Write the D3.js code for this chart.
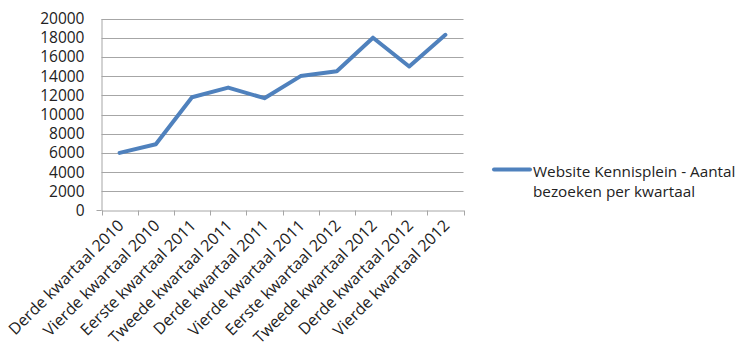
<!DOCTYPE html>
<html>
<head>
<meta charset="utf-8">
<script src="https://cdn.jsdelivr.net/npm/d3@7"></script>
<style>
  html, body { margin: 0; padding: 0; background: #fff; }
  svg { display: block; }
  text { font-family: "Open Sans", "Liberation Sans", sans-serif; fill: #222; }
</style>
</head>
<body>
<svg id="chart" width="744" height="350"></svg>
<script>
const categories = [
  "Derde kwartaal 2010", "Vierde kwartaal 2010", "Eerste kwartaal 2011",
  "Tweede kwartaal 2011", "Derde kwartaal 2011", "Vierde kwartaal 2011",
  "Eerste kwartaal 2012", "Tweede kwartaal 2012", "Derde kwartaal 2012",
  "Vierde kwartaal 2012"
];
const visits = [6000, 6900, 11800, 12800, 11700, 14000, 14500, 18000, 15000, 18300];
const yTicks = [0, 2000, 4000, 6000, 8000, 10000, 12000, 14000, 16000, 18000, 20000];
const seriesName = ["Website Kennisplein - Aantal", "bezoeken per kwartaal"];

(function () {
const svg = d3.select("#chart");
const pLeft = 101.5, pRight = 463.5, pTop = 18.5, pBottom = 210.5;

const x = d3.scaleBand().domain(categories).range([pLeft, pRight]);
const y = d3.scaleLinear().domain([0, 20000]).range([pBottom, pTop]);

// gridlines
svg.append("g").selectAll("line").data(yTicks.filter(d => d > 0)).join("line")
  .attr("x1", pLeft).attr("x2", pRight)
  .attr("y1", d => Math.round(y(d)) + 0.5).attr("y2", d => Math.round(y(d)) + 0.5)
  .attr("stroke", "#a6a6a6").attr("stroke-width", 1);

// y axis
const yAxis = d3.axisLeft(y).tickValues(yTicks).tickSize(0).tickPadding(17).tickFormat(d3.format("d"));
const gy = svg.append("g").attr("transform", `translate(${pLeft},0)`).call(yAxis);
gy.select(".domain").attr("stroke", "#a6a6a6");
gy.selectAll("text").attr("font-size", "15.5px").attr("fill", "#222")
  .attr("font-family", "'Open Sans', sans-serif");
svg.append("line").attr("x1", pLeft - 5).attr("x2", pLeft).attr("y1", pBottom).attr("y2", pBottom)
  .attr("stroke", "#a6a6a6");

// x axis
const xAxis = d3.axisBottom(x).tickSize(0).tickPadding(0);
const gx = svg.append("g").attr("transform", `translate(0,${pBottom})`).call(xAxis);
gx.select(".domain").attr("stroke", "#a6a6a6");
const bounds = categories.map(c => x(c)).concat([pRight]);
svg.append("g").selectAll("line").data(bounds).join("line")
  .attr("x1", d => Math.round(d) + 0.5).attr("x2", d => Math.round(d) + 0.5)
  .attr("y1", pBottom).attr("y2", pBottom + 5)
  .attr("stroke", "#a6a6a6");
gx.selectAll(".tick text")
  .attr("font-size", "16px")
  .attr("text-anchor", "end")
  .attr("dy", 0)
  .attr("transform", "translate(5,16) rotate(-45)")
  .attr("fill", "#222");

// line
const line = d3.line().x((d, i) => x(categories[i]) + x.bandwidth() / 2).y(d => y(d));
svg.append("path").datum(visits)
  .attr("d", line)
  .attr("fill", "none")
  .attr("stroke", "#4f81bd")
  .attr("stroke-width", 4)
  .attr("stroke-linejoin", "round")
  .attr("stroke-linecap", "round");

// legend
const lg = svg.append("g");
lg.append("line").attr("x1", 494).attr("x2", 530).attr("y1", 169.5).attr("y2", 169.5)
  .attr("stroke", "#4f81bd").attr("stroke-width", 4).attr("stroke-linecap", "round");
lg.selectAll("text").data(seriesName).join("text")
  .attr("x", 533).attr("y", (d, i) => 177 + i * 19.5)
  .attr("font-size", "15.3px")
  .text(d => d);
})();
</script>
</body>
</html>
